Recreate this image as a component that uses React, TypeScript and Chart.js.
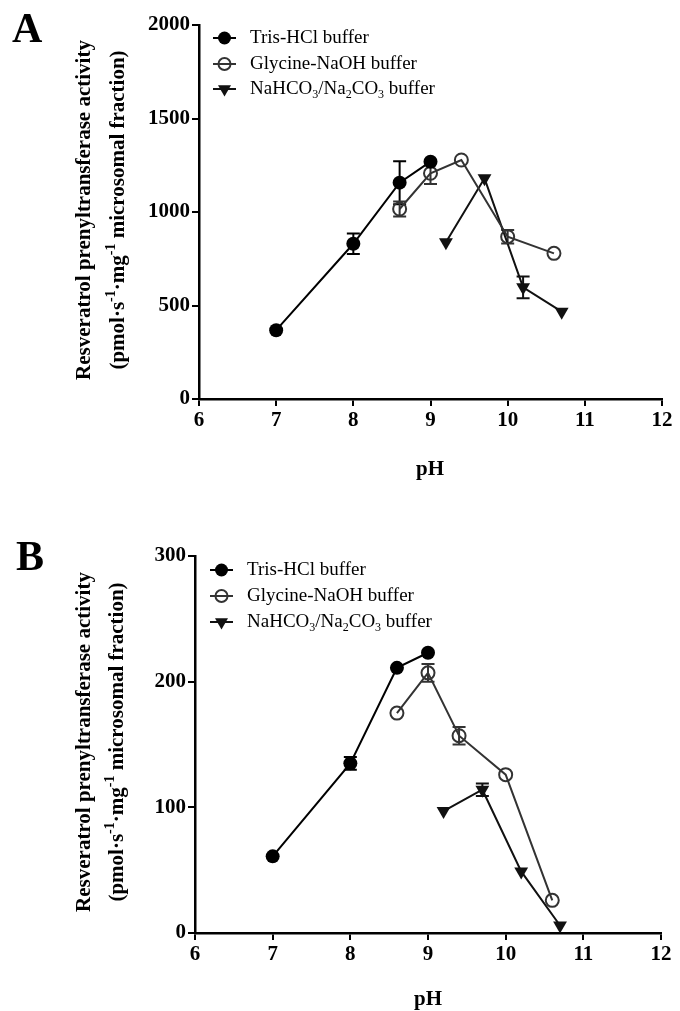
import { useEffect, useRef } from "react";
import { Chart, registerables } from "chart.js";

Chart.register(...registerables);

// pH values of each buffer series
const phTris = [7, 8, 8.6, 9];
const phGlycine = [8.6, 9, 9.4, 10, 10.6];
const phCarbonate = [9.2, 9.7, 10.2, 10.7];

// Panel A
const trisA = [368, 830, 1157, 1269];
const trisErrA = [0, 55, 115, 0];
const glycineA = [1016, 1207, 1278, 868, 779];
const glycineErrA = [40, 57, 0, 36, 0];
const carbonateA = [838, 1180, 597, 467];
const carbonateErrA = [0, 0, 58, 0];

// Panel B
const trisB = [61, 135, 211, 223];
const trisErrB = [0, 5, 0, 0];
const glycineB = [175, 207, 157, 126, 26];
const glycineErrB = [0, 7, 7, 0, 0];
const carbonateB = [97, 114, 49, 6];
const carbonateErrB = [0, 5, 0, 0];

const xTicks = [6, 7, 8, 9, 10, 11, 12];
const yTicksA = [0, 500, 1000, 1500, 2000];
const yTicksB = [0, 100, 200, 300];

const FONT = '"Liberation Serif", "Times New Roman", serif';
const TRIS_COLOR = "#000000";
const GLY_COLOR = "#333333";
const CARB_COLOR = "#111111";

type Run = { t: string; s?: "sup" | "sub" };

const yTitle1: Run[] = [{ t: "Resveratrol prenyltransferase activity" }];
const yTitle2: Run[] = [
  { t: "(pmol·s" },
  { t: "-1", s: "sup" },
  { t: "·mg" },
  { t: "-1", s: "sup" },
  { t: " microsomal fraction)" },
];
const legendLabels: Run[][] = [
  [{ t: "Tris-HCl buffer" }],
  [{ t: "Glycine-NaOH buffer" }],
  [
    { t: "NaHCO" },
    { t: "3", s: "sub" },
    { t: "/Na" },
    { t: "2", s: "sub" },
    { t: "CO" },
    { t: "3", s: "sub" },
    { t: " buffer" },
  ],
];

function runsWidth(ctx: CanvasRenderingContext2D, runs: Run[], size: number, weight: string) {
  let w = 0;
  for (const r of runs) {
    ctx.font = `${weight} ${r.s ? Math.round(size * 0.65) : size}px ${FONT}`;
    w += ctx.measureText(r.t).width;
  }
  return w;
}

function drawRuns(
  ctx: CanvasRenderingContext2D,
  runs: Run[],
  x: number,
  y: number,
  size: number,
  weight: string,
  center: boolean
) {
  let cx = center ? x - runsWidth(ctx, runs, size, weight) / 2 : x;
  ctx.textAlign = "left";
  ctx.textBaseline = "middle";
  for (const r of runs) {
    const small = Math.round(size * 0.65);
    ctx.font = `${weight} ${r.s ? small : size}px ${FONT}`;
    const dy = r.s === "sup" ? -size * 0.38 : r.s === "sub" ? size * 0.3 : 0;
    ctx.fillText(r.t, cx, y + dy);
    cx += ctx.measureText(r.t).width;
  }
}

function drawMarker(ctx: CanvasRenderingContext2D, kind: string, x: number, y: number, color: string) {
  ctx.save();
  ctx.fillStyle = color;
  ctx.strokeStyle = color;
  ctx.lineWidth = 2;
  if (kind === "dot") {
    ctx.beginPath();
    ctx.arc(x, y, 6.5, 0, Math.PI * 2);
    ctx.fill();
  } else if (kind === "ring") {
    ctx.beginPath();
    ctx.arc(x, y, 6, 0, Math.PI * 2);
    ctx.stroke();
  } else {
    const r = 7.5;
    ctx.beginPath();
    ctx.moveTo(x - r * 0.866, y - r * 0.5);
    ctx.lineTo(x + r * 0.866, y - r * 0.5);
    ctx.lineTo(x, y + r);
    ctx.closePath();
    ctx.fill();
  }
  ctx.restore();
}

interface PanelSpec {
  letter: string;
  letterX: number;
  letterY: number;
  titleX1: number;
  titleX2: number;
  titleY: number;
  phX: number;
  phY: number;
  legendRows: number[];
  legendLineX: [number, number];
  legendTextX: number;
  errors: number[][];
}

function makePanelPlugin(spec: PanelSpec) {
  return {
    id: "panelDecor" + spec.letter,
    beforeDatasetsDraw(chart: Chart) {
      const ctx = chart.ctx;
      const xs = chart.scales.x;
      const ys = chart.scales.y;
      ctx.save();
      ctx.lineWidth = 2;
      chart.data.datasets.forEach((ds, i) => {
        const errs = spec.errors[i];
        ctx.strokeStyle = ds.borderColor as string;
        (ds.data as { x: number; y: number }[]).forEach((pt, j) => {
          const e = errs[j];
          if (!e) return;
          const px = xs.getPixelForValue(pt.x);
          const top = ys.getPixelForValue(pt.y + e);
          const bot = ys.getPixelForValue(pt.y - e);
          ctx.beginPath();
          ctx.moveTo(px, top);
          ctx.lineTo(px, bot);
          ctx.moveTo(px - 6.5, top);
          ctx.lineTo(px + 6.5, top);
          ctx.moveTo(px - 6.5, bot);
          ctx.lineTo(px + 6.5, bot);
          ctx.stroke();
        });
      });
      ctx.restore();
    },
    afterDraw(chart: Chart) {
      const ctx = chart.ctx;
      ctx.save();
      ctx.fillStyle = "#000";

      // panel letter
      ctx.font = `bold 42px ${FONT}`;
      ctx.textAlign = "left";
      ctx.textBaseline = "alphabetic";
      ctx.fillText(spec.letter, spec.letterX, spec.letterY);

      // y title, two rotated lines
      ctx.save();
      ctx.translate(spec.titleX1, spec.titleY);
      ctx.rotate(-Math.PI / 2);
      drawRuns(ctx, yTitle1, 0, 0, 21, "bold", true);
      ctx.restore();
      ctx.save();
      ctx.translate(spec.titleX2, spec.titleY);
      ctx.rotate(-Math.PI / 2);
      drawRuns(ctx, yTitle2, 0, 0, 21, "bold", true);
      ctx.restore();

      // x title
      drawRuns(ctx, [{ t: "pH" }], spec.phX, spec.phY, 21, "bold", true);

      // legend
      const kinds = ["dot", "ring", "tri"];
      chart.data.datasets.forEach((ds, i) => {
        const y = spec.legendRows[i];
        const color = ds.borderColor as string;
        ctx.strokeStyle = color;
        ctx.lineWidth = 2;
        ctx.beginPath();
        ctx.moveTo(spec.legendLineX[0], y);
        ctx.lineTo(spec.legendLineX[1], y);
        ctx.stroke();
        drawMarker(ctx, kinds[i], (spec.legendLineX[0] + spec.legendLineX[1]) / 2, y, color);
        ctx.fillStyle = "#000";
        drawRuns(ctx, legendLabels[i], spec.legendTextX, y, 19, "normal", false);
      });
      ctx.restore();
    },
  };
}

interface PanelProps {
  height: number;
  top: number;
  yMax: number;
  yTicks: number[];
  plotLeft: number;
  plotRight: number;
  plotTop: number;
  plotBottom: number;
  tris: number[];
  glycine: number[];
  carbonate: number[];
  spec: PanelSpec;
}

function toPoints(xs: number[], ys: number[]) {
  return xs.map((x, i) => ({ x, y: ys[i] }));
}

function Panel(props: PanelProps) {
  const chartRef = useRef<HTMLCanvasElement>(null);
  const chartInstance = useRef<Chart | null>(null);

  useEffect(() => {
    if (!chartRef.current) return;
    if (chartInstance.current) chartInstance.current.destroy();

    const tickFont = { family: FONT, size: 21, weight: "bold" as const };
    const axisGrid = {
      display: true,
      drawOnChartArea: false,
      drawTicks: true,
      tickLength: 7,
      color: "#000",
      lineWidth: 2,
    };
    const axisBorder = { display: true, color: "#000", width: 2.5 };

    chartInstance.current = new Chart(chartRef.current, {
      type: "scatter",
      data: {
        datasets: [
          {
            label: "Tris-HCl buffer",
            data: toPoints(phTris, props.tris),
            showLine: true,
            borderColor: TRIS_COLOR,
            backgroundColor: TRIS_COLOR,
            borderWidth: 2,
            pointStyle: "circle",
            pointRadius: 7,
            pointBorderWidth: 0,
          },
          {
            label: "Glycine-NaOH buffer",
            data: toPoints(phGlycine, props.glycine),
            showLine: true,
            borderColor: GLY_COLOR,
            backgroundColor: "rgba(0,0,0,0)",
            borderWidth: 2,
            pointStyle: "circle",
            pointRadius: 6.5,
            pointBorderWidth: 2,
            pointBorderColor: GLY_COLOR,
          },
          {
            label: "NaHCO3/Na2CO3 buffer",
            data: toPoints(phCarbonate, props.carbonate),
            showLine: true,
            borderColor: CARB_COLOR,
            backgroundColor: CARB_COLOR,
            borderWidth: 2,
            pointStyle: "triangle",
            rotation: 180,
            pointRadius: 8,
            pointBorderWidth: 0,
          },
        ],
      },
      options: {
        animation: false,
        responsive: true,
        maintainAspectRatio: false,
        layout: {
          padding: { top: props.plotTop, right: 680 - props.plotRight, left: 0, bottom: 0 },
        },
        plugins: {
          legend: { display: false },
          tooltip: { enabled: false },
        },
        scales: {
          x: {
            type: "linear",
            min: 6,
            max: 12,
            afterFit: scale => {
              scale.height = props.height - props.plotBottom;
            },
            afterBuildTicks: scale => {
              scale.ticks = xTicks.map(v => ({ value: v }));
            },
            ticks: { font: tickFont, color: "#000", padding: 2, maxRotation: 0, callback: v => String(v) },
            grid: axisGrid,
            border: axisBorder,
          },
          y: {
            type: "linear",
            min: 0,
            max: props.yMax,
            afterFit: scale => {
              scale.width = props.plotLeft;
            },
            afterBuildTicks: scale => {
              scale.ticks = props.yTicks.map(v => ({ value: v }));
            },
            ticks: { font: tickFont, color: "#000", padding: 2, callback: v => String(v) },
            grid: axisGrid,
            border: axisBorder,
          },
        },
      },
      plugins: [makePanelPlugin(props.spec)],
    });

    return () => {
      if (chartInstance.current) {
        chartInstance.current.destroy();
        chartInstance.current = null;
      }
    };
  }, [props]);

  return (
    <div style={{ position: "absolute", left: 0, top: props.top, width: 680, height: props.height }}>
      <canvas ref={chartRef} />
    </div>
  );
}

const specA: PanelSpec = {
  letter: "A",
  letterX: 12,
  letterY: 42,
  titleX1: 85,
  titleX2: 119,
  titleY: 210,
  phX: 430,
  phY: 470,
  legendRows: [38, 64, 89],
  legendLineX: [213, 236],
  legendTextX: 250,
  errors: [trisErrA, glycineErrA, carbonateErrA],
};

const specB: PanelSpec = {
  letter: "B",
  letterX: 16,
  letterY: 65,
  titleX1: 85,
  titleX2: 118,
  titleY: 237,
  phX: 428,
  phY: 495,
  legendRows: [65, 91, 117],
  legendLineX: [210, 233],
  legendTextX: 247,
  errors: [trisErrB, glycineErrB, carbonateErrB],
};

const panelA: PanelProps = {
  height: 505,
  top: 0,
  yMax: 2000,
  yTicks: yTicksA,
  plotLeft: 199,
  plotRight: 662,
  plotTop: 25,
  plotBottom: 399,
  tris: trisA,
  glycine: glycineA,
  carbonate: carbonateA,
  spec: specA,
};

const panelB: PanelProps = {
  height: 506,
  top: 505,
  yMax: 300,
  yTicks: yTicksB,
  plotLeft: 195,
  plotRight: 661,
  plotTop: 51,
  plotBottom: 428,
  tris: trisB,
  glycine: glycineB,
  carbonate: carbonateB,
  spec: specB,
};

export default function App() {
  return (
    <div style={{ position: "absolute", left: 0, top: 0, width: 680, height: 1011, background: "#fff" }}>
      <Panel {...panelA} />
      <Panel {...panelB} />
    </div>
  );
}
